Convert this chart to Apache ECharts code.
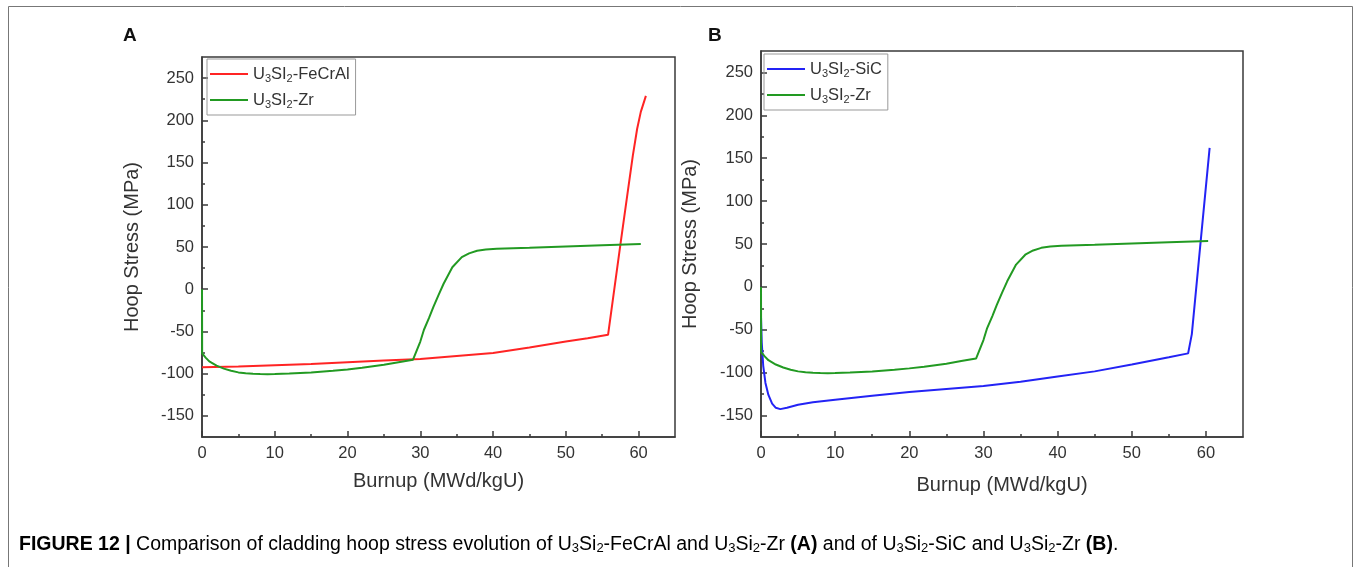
<!DOCTYPE html>
<html>
<head>
<meta charset="utf-8">
<script src="https://cdn.jsdelivr.net/npm/echarts@6/dist/echarts.min.js"></script>
<style>
html,body{margin:0;padding:0;background:#fff;}
#c{width:1358px;height:567px;}
</style>
</head>
<body>
<div id="c"></div>
<script>
// ---------- DATA ----------
// U3Si2-Zr (same curve in both panels)
var zrBurnup = [0, 0.02, 0.5, 1, 2, 3, 4, 5, 6, 7, 8, 9, 10, 12, 15, 18, 20, 22, 25, 27, 29, 29.2, 30, 30.5, 31.2, 31.8, 32.5, 33.2, 34.4, 35.7, 36.7, 37.8, 39, 40.5, 45, 50, 55, 60.3];
var zrStress = [0, -76, -81, -85.5, -90.5, -94, -96.5, -98.5, -99.5, -100.2, -100.5, -100.6, -100.4, -99.8, -98.5, -96.5, -95, -93, -89.5, -86.5, -83.5, -82.8, -62, -48, -34, -21, -7, 6.5, 26, 38, 42.5, 45.5, 47, 48, 49, 50.5, 52, 53.5];
// U3Si2-FeCrAl
var fecralBurnup = [0, 5, 10, 15, 20, 25, 30, 35, 40, 45, 50, 53, 55.8, 56.5, 57.5, 58.5, 59.2, 59.8, 60.3, 61];
var fecralStress = [-92.5, -91.5, -90, -88.5, -86.5, -84.5, -82.5, -79, -75.5, -69, -62, -58, -54, -10, 53, 115, 158, 190, 210, 229];
// U3Si2-SiC
var sicBurnup = [0, 0.1, 0.3, 0.6, 1.0, 1.5, 2.0, 2.6, 3.5, 5, 7, 10, 15, 20, 25, 30, 35, 40, 45, 50, 55, 57.6, 58.1, 59.3, 60.5];
var sicStress = [-35, -65, -92, -112, -126, -136, -141, -142.5, -141, -137.5, -134.5, -131.5, -127, -122.5, -119, -115.5, -110.5, -104.5, -98.5, -90.5, -82, -77.5, -55, 54, 162];
// axis ticks
var xMajorTicks = [0, 10, 20, 30, 40, 50, 60];
var xMinorTicks = [5, 15, 25, 35, 45, 55];
var yMajorTicks = [-150, -100, -50, 0, 50, 100, 150, 200, 250];
var yMinorTicks = [-125, -75, -25, 25, 75, 125, 175, 225];

function zip(a, b) { return a.map(function (v, i) { return [v, b[i]]; }); }

var FONT = 'Liberation Sans, Arial, sans-serif';
var RED = '#ff2424', GREEN = '#229a22', BLUE = '#2323f5';
var AX = '#3a3a3a';

function xAxes(grid, nameGap) {
  return [{
    gridIndex: grid, type: 'value', min: 0, max: 65,
    name: 'Burnup (MWd/kgU)', nameLocation: 'middle', nameGap: nameGap,
    nameTextStyle: { fontFamily: FONT, fontSize: 20, color: '#333' },
    axisLine: { show: true, onZero: false, lineStyle: { color: AX, width: 1.5 } },
    axisTick: { show: true, inside: true, length: 6, customValues: xMajorTicks, lineStyle: { color: AX, width: 1.5 } },
    axisLabel: { show: true, customValues: xMajorTicks, fontFamily: FONT, fontSize: 16.5, color: '#333', margin: 8 },
    splitLine: { show: false }
  }, {
    gridIndex: grid, type: 'value', min: 0, max: 65, position: 'bottom',
    axisLine: { show: false, onZero: false },
    axisTick: { show: true, inside: true, length: 3, customValues: xMinorTicks, lineStyle: { color: AX, width: 1.5 } },
    axisLabel: { show: false }, splitLine: { show: false }
  }];
}
function yAxes(grid, nameGap) {
  return [{
    gridIndex: grid, type: 'value', min: -175, max: 275,
    name: 'Hoop Stress (MPa)', nameLocation: 'middle', nameGap: nameGap,
    nameTextStyle: { fontFamily: FONT, fontSize: 20, color: '#333' },
    axisLine: { show: true, onZero: false, lineStyle: { color: AX, width: 1.5 } },
    axisTick: { show: true, inside: true, length: 6, customValues: yMajorTicks, lineStyle: { color: AX, width: 1.5 } },
    axisLabel: { show: true, customValues: yMajorTicks, fontFamily: FONT, fontSize: 16.5, color: '#333', margin: 8 },
    splitLine: { show: false }
  }, {
    gridIndex: grid, type: 'value', min: -175, max: 275, position: 'left',
    axisLine: { show: false, onZero: false },
    axisTick: { show: true, inside: true, length: 3, customValues: yMinorTicks, lineStyle: { color: AX, width: 1.5 } },
    axisLabel: { show: false }, splitLine: { show: false }
  }];
}

function legendFmt(name) {
  return name.replace('U3SI2', 'U{s|3}SI{s|2}');
}
var legendText = {
  fontFamily: FONT, fontSize: 16.5, color: '#333', lineHeight: 20,
  rich: { s: { fontFamily: FONT, fontSize: 11, color: '#333', lineHeight: 12, verticalAlign: 'bottom' } }
};

function line(name, xi, yi, data, color) {
  return {
    name: name, type: 'line', xAxisIndex: xi, yAxisIndex: yi, data: data,
    showSymbol: false, symbol: 'none', smooth: false,
    lineStyle: { color: color, width: 2 }, itemStyle: { color: color }, z: 3
  };
}

var capRich = {
  b: { fontFamily: FONT, fontSize: 19.5, fontWeight: 'bold', color: '#222' },
  s: { fontFamily: FONT, fontSize: 13, color: '#222', lineHeight: 14, verticalAlign: 'bottom' },
  n: { fontFamily: FONT, fontSize: 19.5, color: '#222' }
};

var option = {
  backgroundColor: '#ffffff',
  animation: false,
  grid: [
    { left: 202, top: 57, width: 473, height: 380, show: true, borderColor: AX, borderWidth: 1.5, backgroundColor: 'transparent' },
    { left: 761, top: 51, width: 482, height: 386, show: true, borderColor: AX, borderWidth: 1.5, backgroundColor: 'transparent' }
  ],
  xAxis: xAxes(0, 34).concat(xAxes(1, 38)),
  yAxis: yAxes(0, 60).concat(yAxes(1, 61)),
  legend: [
    {
      left: 207, top: 59, orient: 'vertical', itemGap: 6, itemWidth: 38, itemHeight: 2,
      icon: 'rect', padding: [5, 6, 5, 3], borderColor: '#999', borderWidth: 1,
      data: ['U3SI2-FeCrAl', 'U3SI2-Zr'], formatter: legendFmt, textStyle: legendText, selectedMode: false
    },
    {
      left: 764, top: 54, orient: 'vertical', itemGap: 6, itemWidth: 38, itemHeight: 2,
      icon: 'rect', padding: [5, 6, 5, 3], borderColor: '#999', borderWidth: 1,
      data: ['U3SI2-SiC', 'U3SI2-Zr'], formatter: legendFmt, textStyle: legendText, selectedMode: false
    }
  ],
  series: [
    line('U3SI2-FeCrAl', 0, 0, zip(fecralBurnup, fecralStress), RED),
    line('U3SI2-Zr', 0, 0, zip(zrBurnup, zrStress), GREEN),
    line('U3SI2-SiC', 2, 2, zip(sicBurnup, sicStress), BLUE),
    line('U3SI2-Zr', 2, 2, zip(zrBurnup, zrStress), GREEN)
  ],
  graphic: [
    { type: 'rect', shape: { x: 8.5, y: 6.5, width: 1344, height: 640 }, style: { fill: 'none', stroke: '#777', lineWidth: 1 }, silent: true },
    { type: 'text', x: 123, y: 26, style: { text: 'A', font: 'bold 19px ' + FONT, fill: '#111' } },
    { type: 'text', x: 708, y: 26, style: { text: 'B', font: 'bold 19px ' + FONT, fill: '#111' } },
    {
      type: 'text', x: 19, y: 535,
      style: {
        text: '{b|FIGURE 12 |}{n| Comparison of cladding hoop stress evolution of U}{s|3}{n|Si}{s|2}{n|-FeCrAl and U}{s|3}{n|Si}{s|2}{n|-Zr }{b|(A)}{n| and of U}{s|3}{n|Si}{s|2}{n|-SiC and U}{s|3}{n|Si}{s|2}{n|-Zr }{b|(B)}{n|.}',
        rich: capRich
      }
    }
  ]
};

var chart = echarts.init(document.getElementById('c'), null, { renderer: 'canvas' });
chart.setOption(option);
</script>
</body>
</html>
